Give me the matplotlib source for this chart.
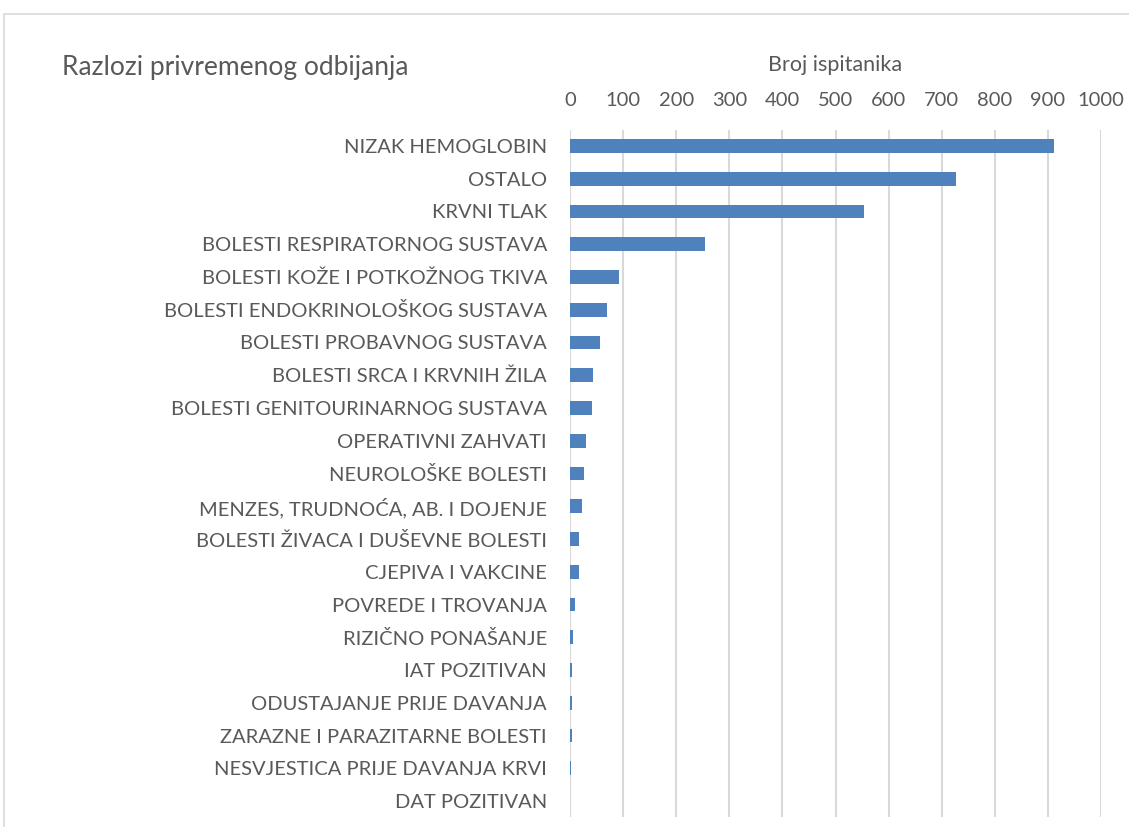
import matplotlib.pyplot as plt
from matplotlib.patches import Rectangle

plt.rcParams['font.family'] = ['Lato', 'DejaVu Sans']

categories = [
    'NIZAK HEMOGLOBIN', 'OSTALO', 'KRVNI TLAK', 'BOLESTI RESPIRATORNOG SUSTAVA',
    'BOLESTI KOŽE I POTKOŽNOG TKIVA', 'BOLESTI ENDOKRINOLOŠKOG SUSTAVA',
    'BOLESTI PROBAVNOG SUSTAVA', 'BOLESTI SRCA I KRVNIH ŽILA',
    'BOLESTI GENITOURINARNOG SUSTAVA', 'OPERATIVNI ZAHVATI', 'NEUROLOŠKE BOLESTI',
    'MENZES, TRUDNOĆA, AB. I DOJENJE', 'BOLESTI ŽIVACA I DUŠEVNE BOLESTI',
    'CJEPIVA I VAKCINE', 'POVREDE I TROVANJA', 'RIZIČNO PONAŠANJE', 'IAT POZITIVAN',
    'ODUSTAJANJE PRIJE DAVANJA', 'ZARAZNE I PARAZITARNE BOLESTI',
    'NESVJESTICA PRIJE DAVANJA KRVI', 'DAT POZITIVAN',
]
values = [911, 727, 553, 254, 92, 69, 57, 43, 42, 31, 26, 23, 17, 17, 10, 5, 4, 4, 4, 1, 0]
xticks = list(range(0, 1001, 100))

textColor = '#595959'
gridColor = '#d9d9d9'

fig = plt.figure(figsize=(11.29, 8.27), dpi=100)
ax = fig.add_axes([570 / 1129, 1 - 817.4 / 827, 531 / 1129, (817.4 - 129.6) / 827])

ypos = list(range(len(categories)))
ax.barh(ypos, values, height=0.42, color='#4f81bd', zorder=3)
ax.set_ylim(len(categories) - 0.5, -0.5)
ax.set_xlim(0, 1000)
ax.set_yticks(ypos)
ax.set_yticklabels(categories, fontsize=14.5, color=textColor)
ax.set_xticks(xticks)
ax.set_xticklabels([str(t) for t in xticks], fontsize=14.5, color=textColor)
ax.xaxis.tick_top()
ax.xaxis.set_label_position('top')
ax.set_xlabel('Broj ispitanika', fontsize=15.5, color=textColor, labelpad=15)
ax.tick_params(axis='both', length=0)
ax.tick_params(axis='x', pad=15)
ax.tick_params(axis='y', pad=16.5)
ax.grid(axis='x', color=gridColor, linewidth=1.5, zorder=0)
for s in ax.spines.values():
    s.set_visible(False)

fig.text(62 / 1129, 1 - 68 / 827, 'Razlozi privremenog odbijanja', fontsize=19,
         color=textColor, va='center', ha='left')

# chart border
fig.patches.append(Rectangle((4 / 1129, -0.1), 1.2, 1 - 14 / 827 + 0.1, transform=fig.transFigure,
                             fill=False, edgecolor=gridColor, linewidth=1.2))

fig.savefig('out.png', dpi=100)
